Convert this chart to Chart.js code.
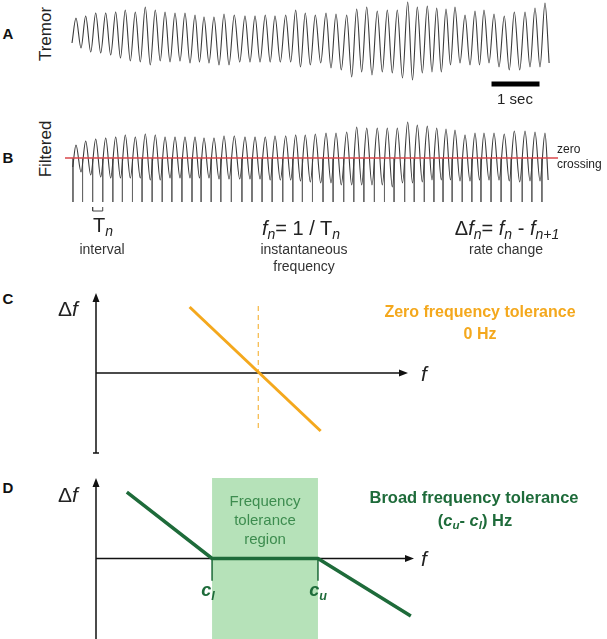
<!DOCTYPE html>
<html>
<head>
<meta charset="utf-8">
<script src="https://cdn.jsdelivr.net/npm/chart.js@4.4.1/dist/chart.umd.min.js"></script>
<style>
body{margin:0;background:#fff}
#fig{position:relative;width:607px;height:639px;overflow:hidden;font-family:"Liberation Sans",Arial,sans-serif;color:#222}
canvas{position:absolute}
.t{position:absolute;transform:translate(-50%,-50%);white-space:nowrap;line-height:1}
.l{position:absolute;transform:translateY(-50%);white-space:nowrap;line-height:1}
.rot{transform:translate(-50%,-50%) rotate(-90deg)}
.p{font-weight:bold;font-size:15px;color:#111}
sub{font-size:0.7em;vertical-align:-0.3em;font-style:italic;line-height:0}
</style>
</head>
<body>
<div id="fig">
  <canvas id="chartA" width="500" height="110" style="left:60px;top:0px"></canvas>
  <canvas id="chartB" width="500" height="105" style="left:60px;top:110px"></canvas>
  <canvas id="chartC" width="360" height="185" style="left:80px;top:280px"></canvas>
  <canvas id="chartD" width="360" height="174" style="left:80px;top:465px"></canvas>

  <div class="t p" style="left:8px;top:33px">A</div>
  <div class="t rot" style="left:45px;top:34px;font-size:17px">Tremor</div>
  <div class="t" style="left:515px;top:98px;font-size:15px">1 sec</div>

  <div class="t p" style="left:8px;top:157px">B</div>
  <div class="t rot" style="left:45px;top:149px;font-size:17px">Filtered</div>
  <div class="l" style="left:557px;top:149px;font-size:12px">zero</div>
  <div class="l" style="left:557px;top:164px;font-size:12px">crossing</div>

  <div class="t" style="left:103px;top:225px;font-size:20px">T<sub>n</sub></div>
  <div class="t" style="left:301px;top:228px;font-size:20px"><i>f</i><sub>n</sub>= 1 / T<sub>n</sub></div>
  <div class="t" style="left:507px;top:228px;font-size:20px">&Delta;<i>f</i><sub>n</sub>= <i>f</i><sub>n</sub> - <i>f</i><sub>n+1</sub></div>
  <div class="t" style="left:102px;top:249px;font-size:14px;color:#333">interval</div>
  <div class="t" style="left:304px;top:249px;font-size:14px;color:#333">instantaneous</div>
  <div class="t" style="left:304px;top:266px;font-size:14px;color:#333">frequency</div>
  <div class="t" style="left:506px;top:249px;font-size:14px;color:#333">rate change</div>

  <div class="t p" style="left:8px;top:298px">C</div>
  <div class="t" style="left:68px;top:308px;font-size:21px">&Delta;<i>f</i></div>
  <div class="t" style="left:424px;top:373px;font-size:21px"><i>f</i></div>
  <div class="t" style="left:480px;top:312px;font-size:16px;font-weight:bold;color:#F4A81D">Zero frequency tolerance</div>
  <div class="t" style="left:480px;top:334px;font-size:16px;font-weight:bold;color:#F4A81D">0 Hz</div>

  <div class="t p" style="left:8px;top:487px">D</div>
  <div class="t" style="left:68px;top:494px;font-size:21px">&Delta;<i>f</i></div>
  <div class="t" style="left:424px;top:558px;font-size:21px"><i>f</i></div>
  <div class="t" style="left:265px;top:500px;font-size:15px;color:#3D8C4F">Frequency</div>
  <div class="t" style="left:265px;top:519px;font-size:15px;color:#3D8C4F">tolerance</div>
  <div class="t" style="left:265px;top:538px;font-size:15px;color:#3D8C4F">region</div>
  <div class="t" style="left:474px;top:497px;font-size:16.5px;font-weight:bold;color:#1E6B3A">Broad frequency tolerance</div>
  <div class="t" style="left:475px;top:520px;font-size:16.5px;font-weight:bold;color:#1E6B3A">(<i>c<sub>u</sub></i>- <i>c<sub>l</sub></i>) Hz</div>
  <div class="t" style="left:208px;top:590px;font-size:18px;font-weight:bold;font-style:italic;color:#1E6B3A">c<sub>l</sub></div>
  <div class="t" style="left:318px;top:590px;font-size:18px;font-weight:bold;font-style:italic;color:#1E6B3A">c<sub>u</sub></div>
</div>
<script>
// times (s) of the peaks and troughs of each tremor cycle
var peakTimes = [0.083, 0.285, 0.494, 0.702, 0.910, 1.110, 1.319, 1.527, 1.735, 1.938, 2.146, 2.354, 2.563,
  2.750, 2.958, 3.167, 3.381, 3.604, 3.813, 4.027, 4.229, 4.452, 4.660, 4.860, 5.069, 5.292, 5.500,
  5.723, 5.931, 6.140, 6.360, 6.569, 6.777, 6.994, 7.194, 7.402, 7.598, 7.792, 7.979, 8.188,
  8.396, 8.583, 8.792, 9.006, 9.215, 9.438, 9.646, 9.854];
var troughTimes = [0.188, 0.390, 0.598, 0.806, 1.010, 1.215, 1.423, 1.631, 1.838, 2.042, 2.250, 2.458,
  2.656, 2.854, 3.063, 3.271, 3.494, 3.708, 3.917, 4.129, 4.340, 4.556, 4.760, 4.965, 5.181, 5.396,
  5.610, 5.827, 6.035, 6.250, 6.465, 6.673, 6.885, 7.094, 7.298, 7.500, 7.694, 7.885, 8.083,
  8.292, 8.490, 8.688, 8.896, 9.110, 9.327, 9.542, 9.750];

// raw tremor (arbitrary units)
var tremorPeaks = [22, 24, 27, 27, 28, 30, 28, 33, 30, 28, 27, 27, 25,
  23, 23, 26, 25, 24, 24, 25, 24, 25, 30, 27, 25, 27, 26,
  25, 31, 33, 29, 30, 30, 38, 33, 34, 32, 31, 33, 25,
  29, 30, 26, 24, 28, 28, 32, 37];
var tremorTroughs = [-8, -12, -13, -15, -18, -21, -22, -25, -21, -22, -21, -23,
  -22, -23, -25, -25, -22, -22, -22, -22, -22, -22, -27, -25, -23, -28,
  -30, -37, -32, -35, -32, -33, -38, -40, -33, -32, -32, -25, -23,
  -25, -25, -23, -27, -30, -30, -27, -27];
var tremorStart = [0, -3];
var tremorEnd = [9.94, -23];

// band-pass filtered tremor
var filteredPeaks = [13, 17, 19, 20, 21, 23, 21, 24, 23, 21, 21, 21, 21, 20, 20, 22, 22,
  21, 21, 21, 22, 22, 23,
  23, 24, 25, 25, 26, 31, 30, 30, 30, 30, 36, 33, 32, 30, 29, 28, 23, 25, 25, 25, 24, 27, 27, 26, 25];
var filteredTroughs = [-14, -17, -19, -20, -20, -20, -20, -22, -22, -20, -20, -20,
  -20, -20, -21, -21, -21, -21, -21, -22, -22, -22, -23,
  -24, -25, -25, -27, -27, -27, -27, -27, -29, -25, -25, -24, -22, -22, -22, -23,
  -23, -22, -22, -22, -23, -24, -23, -23];
var filteredStart = [0.015, -9];
var filteredEnd = [9.92, -22];

// upward zero crossings (s)
var crossingTimes = [0.02, 0.22, 0.43, 0.64, 0.85, 1.05, 1.26, 1.46, 1.67, 1.88, 2.08, 2.29, 2.50,
  2.69, 2.90, 3.10, 3.32, 3.54, 3.75, 3.96, 4.17, 4.39, 4.60, 4.80, 5.01, 5.23, 5.44,
  5.66, 5.87, 6.08, 6.30, 6.51, 6.71, 6.93, 7.13, 7.34, 7.54, 7.73, 7.92, 8.13,
  8.33, 8.52, 8.73, 8.94, 9.15, 9.38, 9.58, 9.79];
var zeroLine = [-0.146, 10.125];
var scaleBar = [8.74, 9.74];  // 1 sec
var intervalIdx = 2;          // T_n bracket between crossing 2 and 3

// schematic tolerance curves (f, delta f)
var zeroTolF = 5.2;
var zeroTolLine = [[3.0, 3.3], [7.2, -2.9]];
var cLower = 3.65;
var cUpper = 6.98;
var broadTolLine = [[0.97, 3.3], [cLower, 0], [cUpper, 0], [9.9, -2.86]];

var ORANGE = '#F4A81D';
var GREEN = '#1E6B3A';

function buildTrace(start, peaks, troughs, end) {
  var pts = [{x: start[0], y: start[1]}];
  for (var i = 0; i < peaks.length; i++) {
    pts.push({x: peakTimes[i], y: peaks[i]});
    if (i < troughs.length) pts.push({x: troughTimes[i], y: troughs[i]});
  }
  pts.push({x: end[0], y: end[1]});
  return pts;
}

function toPts(arr) {
  return arr.map(function (p) { return {x: p[0], y: p[1]}; });
}

var arrowAxes = {
  id: 'arrowAxes',
  beforeDatasetsDraw: function (chart, args, opts) {
    var ctx = chart.ctx, a = chart.chartArea;
    var x0 = chart.scales.x.getPixelForValue(0);
    var y0 = chart.scales.y.getPixelForValue(0);
    ctx.save();
    ctx.strokeStyle = '#111';
    ctx.fillStyle = '#111';
    ctx.lineWidth = 1.5;
    ctx.beginPath();
    ctx.moveTo(x0, a.bottom);
    ctx.lineTo(x0, a.top + 6);
    ctx.moveTo(x0, y0);
    ctx.lineTo(a.right - 6, y0);
    if (opts.serif) {
      ctx.moveTo(x0 - 3, a.bottom);
      ctx.lineTo(x0 + 3, a.bottom);
    }
    ctx.stroke();
    ctx.beginPath();
    ctx.moveTo(x0, a.top);
    ctx.lineTo(x0 - 3.5, a.top + 9);
    ctx.lineTo(x0 + 3.5, a.top + 9);
    ctx.closePath();
    ctx.moveTo(a.right, y0);
    ctx.lineTo(a.right - 9, y0 - 3.5);
    ctx.lineTo(a.right - 9, y0 + 3.5);
    ctx.closePath();
    ctx.fill();
    ctx.restore();
  }
};

function makeChart(id, datasets, xr, yr, pad, axes) {
  var opts = {
    responsive: false,
    animation: false,
    layout: {padding: pad},
    plugins: {legend: {display: false}, tooltip: {enabled: false}},
    scales: {
      x: {type: 'linear', display: false, min: xr[0], max: xr[1]},
      y: {type: 'linear', display: false, min: yr[0], max: yr[1]}
    },
    elements: {point: {radius: 0}}
  };
  if (axes) opts.plugins.arrowAxes = axes;
  return new Chart(document.getElementById(id), {
    type: 'scatter',
    data: {datasets: datasets},
    options: opts,
    plugins: axes ? [arrowAxes] : []
  });
}

// A: raw tremor
makeChart('chartA', [
  {data: buildTrace(tremorStart, tremorPeaks, tremorTroughs, tremorEnd), showLine: true,
   borderColor: '#3a3a3a', borderWidth: 1.1, cubicInterpolationMode: 'monotone', clip: false},
  {data: [{x: scaleBar[0], y: -44}, {x: scaleBar[1], y: -44}], showLine: true,
   borderColor: '#000', borderWidth: 5, borderCapStyle: 'butt'}
], [-0.25, 10.1667], [-70, 40], 0);

// B: filtered tremor, zero line and crossings
var tickPts = [];
crossingTimes.forEach(function (t) {
  tickPts.push({x: t, y: 0}, {x: t, y: -44}, {x: t, y: null});
});
var t1 = crossingTimes[intervalIdx], t2 = crossingTimes[intervalIdx + 1];
makeChart('chartB', [
  {data: buildTrace(filteredStart, filteredPeaks, filteredTroughs, filteredEnd), showLine: true,
   borderColor: '#3a3a3a', borderWidth: 1.1, cubicInterpolationMode: 'monotone', order: 2, clip: false},
  {data: tickPts, showLine: true, spanGaps: false, borderColor: '#666', borderWidth: 1, order: 2},
  {data: [{x: t1, y: -49}, {x: t1, y: -53}, {x: t2, y: -53}, {x: t2, y: -49}], showLine: true,
   borderColor: '#444', borderWidth: 1},
  {data: [{x: zeroLine[0], y: 0}, {x: zeroLine[1], y: 0}], showLine: true,
   borderColor: '#D9474B', borderWidth: 1.5, order: 0}
], [-0.25, 10.1667], [-57, 48], 0);

// C: zero frequency tolerance
makeChart('chartC', [
  {data: [{x: zeroTolF, y: 3.35}, {x: zeroTolF, y: -2.95}], showLine: true,
   borderColor: ORANGE, borderWidth: 1, borderDash: [5, 4]},
  {data: toPts(zeroTolLine), showLine: true, borderColor: ORANGE, borderWidth: 3}
], [0, 10], [-4, 4], {left: 16, top: 13, right: 32, bottom: 12}, {serif: true});

// D: broad frequency tolerance
makeChart('chartD', [
  {data: [{x: cLower, y: 4}, {x: cUpper, y: 4}], showLine: true, borderWidth: 0,
   fill: 'start', backgroundColor: '#B6E2B9', order: 3},
  {data: [{x: cLower, y: 0}, {x: cLower, y: -1.1}, {x: cLower, y: null},
          {x: cUpper, y: 0}, {x: cUpper, y: -1.1}], showLine: true, spanGaps: false,
   borderColor: GREEN, borderWidth: 1.5},
  {data: toPts(broadTolLine), showLine: true, borderColor: GREEN, borderWidth: 3.5, clip: false}
], [0, 10], [-4, 4], {left: 16, top: 13, right: 26, bottom: 0}, {serif: false});
</script>
</body>
</html>
